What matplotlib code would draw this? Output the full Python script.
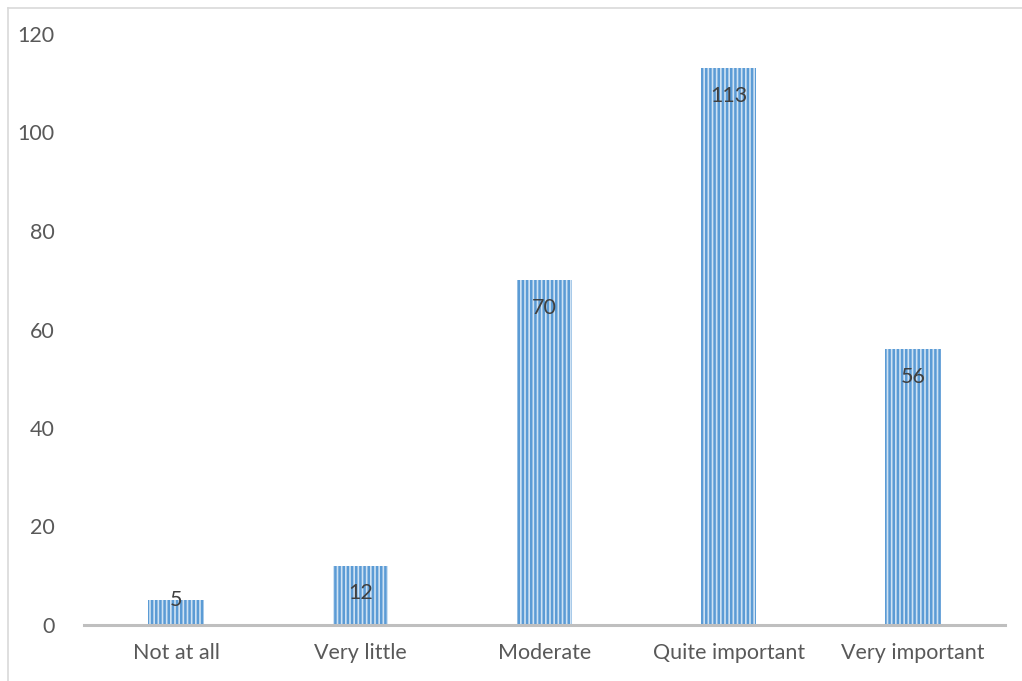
import matplotlib
matplotlib.use("Agg")
import matplotlib.pyplot as plt
from matplotlib.lines import Line2D

categories = ["Not at all", "Very little", "Moderate", "Quite important", "Very important"]
counts = [5, 12, 70, 113, 56]
y_ticks = [0, 20, 40, 60, 80, 100, 120]

plt.rcParams["font.family"] = ["Lato", "DejaVu Sans"]
plt.rcParams["hatch.linewidth"] = 1.8
plt.rcParams["hatch.color"] = "#5B9BD5"

fig = plt.figure(figsize=(10.22, 6.81), dpi=100)
ax = fig.add_axes([84 / 1022, 1 - 625 / 681, (1005 - 84) / 1022, (625 - 34) / 681])

x = list(range(len(categories)))
ax.bar(x, counts, width=0.30, color="#CFE2F3", edgecolor="#5B9BD5",
       hatch="||||", linewidth=0, zorder=2)

for xi, v in zip(x, counts):
    ax.text(xi, max(v - 5.6, 5.1), str(v), ha="center", va="center",
            fontsize=15.5, color="#404040", zorder=3)

ax.set_xlim(-0.5, len(categories) - 0.5)
ax.set_ylim(0, 120)
ax.set_yticks(y_ticks)
ax.set_xticks(x)
ax.set_xticklabels(categories)
ax.tick_params(axis="both", length=0, labelsize=15.5, colors="#595959")
ax.tick_params(axis="y", pad=21)
ax.tick_params(axis="x", pad=13)

for side in ("top", "right", "left"):
    ax.spines[side].set_visible(False)
ax.spines["bottom"].set_color("#BFBFBF")
ax.spines["bottom"].set_linewidth(2.2)
ax.spines["bottom"].set_zorder(4)

# outer chart frame
fig.add_artist(Line2D([7.5 / 1022, 7.5 / 1022], [0, 1 - 7.5 / 681],
                      color="#D9D9D9", linewidth=1.2, transform=fig.transFigure))
fig.add_artist(Line2D([7.5 / 1022, 1], [1 - 7.5 / 681, 1 - 7.5 / 681],
                      color="#D9D9D9", linewidth=1.2, transform=fig.transFigure))

fig.savefig("out.png", dpi=100)
